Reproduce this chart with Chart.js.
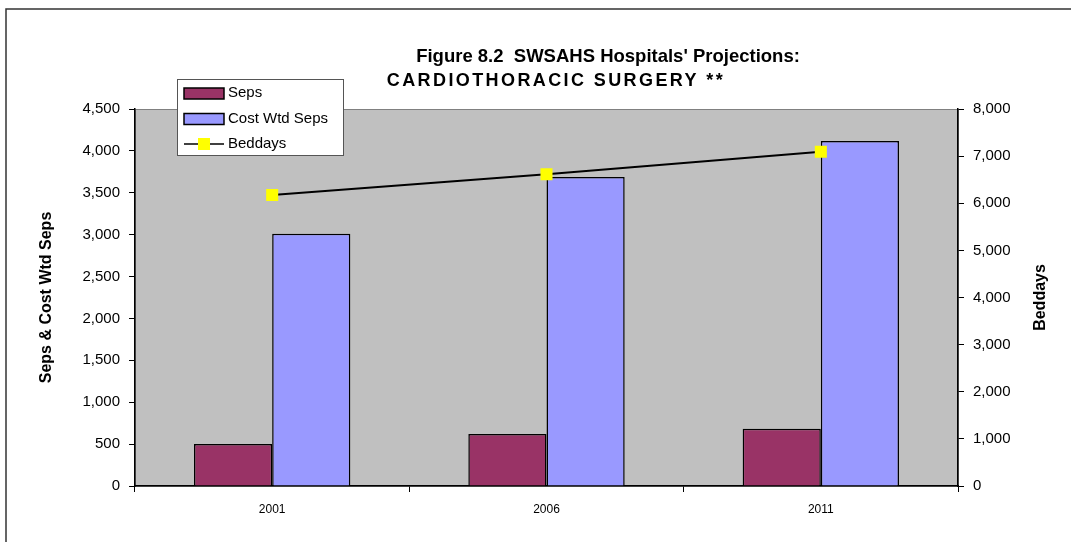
<!DOCTYPE html>
<html>
<head>
<meta charset="utf-8">
<script src="https://cdn.jsdelivr.net/npm/chart.js@4.4.0/dist/chart.umd.min.js"></script>
<style>
  html, body { margin: 0; padding: 0; background: #fff; }
  canvas { display: block; }
</style>
</head>
<body>
<canvas id="chart" width="1071" height="542"></canvas>
<script>
// data
const years = ['2001', '2006', '2011'];
const seps = [500, 620, 684];
const costWtdSeps = [3010, 3687, 4117];
const beddays = [6175, 6613, 7094];

const titleLine1 = "Figure 8.2  SWSAHS Hospitals' Projections:";
const titleLine2 = 'CARDIOTHORACIC SURGERY **';
const leftTitle = 'Seps & Cost Wtd Seps';
const rightTitle = 'Beddays';

const FONT = 'Arial, "Liberation Sans", sans-serif';

// grey plot area + outer frame
const backdrop = {
  id: 'backdrop',
  beforeDraw(chart) {
    const ctx = chart.ctx;
    const a = chart.chartArea;
    ctx.save();
    ctx.fillStyle = '#fff';
    ctx.fillRect(0, 0, chart.width, chart.height);
    ctx.strokeStyle = '#333';
    ctx.lineWidth = 1.5;
    ctx.strokeRect(6, 9, chart.width + 20, chart.height + 20);
    ctx.fillStyle = '#c0c0c0';
    ctx.fillRect(a.left, a.top, a.right - a.left, a.bottom - a.top);
    ctx.strokeStyle = '#808080';
    ctx.lineWidth = 1;
    ctx.strokeRect(a.left + 0.5, a.top + 0.5, a.right - a.left, a.bottom - a.top);
    ctx.restore();
  }
};

// titles, axis titles and the boxed legend
const decorations = {
  id: 'decorations',
  afterDraw(chart) {
    const ctx = chart.ctx;
    const a = chart.chartArea;
    ctx.save();
    ctx.fillStyle = '#000';
    ctx.textAlign = 'center';
    ctx.textBaseline = 'middle';
    ctx.font = 'bold 18.5px ' + FONT;
    ctx.fillText(titleLine1, 608, 57);
    ctx.font = 'bold 18px ' + FONT;
    ctx.letterSpacing = '2.4px';
    ctx.fillText(titleLine2, 556, 81);
    ctx.letterSpacing = '0px';

    ctx.font = 'bold 16px ' + FONT;
    ctx.save();
    ctx.translate(47, (a.top + a.bottom) / 2);
    ctx.rotate(-Math.PI / 2);
    ctx.fillText(leftTitle, 0, 0);
    ctx.restore();
    ctx.save();
    ctx.translate(1041, (a.top + a.bottom) / 2);
    ctx.rotate(-Math.PI / 2);
    ctx.fillText(rightTitle, 0, 0);
    ctx.restore();

    // legend box
    const lx = 177, ly = 79, lw = 166, lh = 76;
    ctx.fillStyle = '#fff';
    ctx.fillRect(lx, ly, lw, lh);
    ctx.strokeStyle = '#555';
    ctx.lineWidth = 1;
    ctx.strokeRect(lx + 0.5, ly + 0.5, lw, lh);
    const ds = chart.data.datasets;
    const rows = [ds[1], ds[2], ds[0]];
    ctx.font = '15px ' + FONT;
    ctx.textAlign = 'left';
    rows.forEach((d, i) => {
      const y = 93 + i * 25.5;
      if (d.type === 'line') {
        ctx.strokeStyle = '#000';
        ctx.lineWidth = 1.5;
        ctx.beginPath();
        ctx.moveTo(184, y);
        ctx.lineTo(224, y);
        ctx.stroke();
        ctx.fillStyle = d.pointBackgroundColor;
        ctx.fillRect(198, y - 6, 12, 12);
      } else {
        ctx.fillStyle = d.backgroundColor;
        ctx.fillRect(184, y - 5, 40, 11);
        ctx.strokeStyle = '#000';
        ctx.lineWidth = 1.5;
        ctx.strokeRect(184, y - 5, 40, 11);
      }
      ctx.fillStyle = '#000';
      ctx.fillText(d.label, 228, y);
    });
    ctx.restore();
  }
};

const fmt = v => v.toLocaleString('en-US');

new Chart(document.getElementById('chart').getContext('2d'), {
  data: {
    labels: years,
    datasets: [{
      type: 'line',
      label: 'Beddays',
      data: beddays,
      yAxisID: 'y2',
      borderColor: '#000',
      borderWidth: 2,
      pointStyle: 'rect',
      pointRadius: 8.5,
      pointBorderWidth: 0,
      pointBackgroundColor: '#ffff00',
      pointBorderColor: '#ffff00',
      order: 0
    }, {
      type: 'bar',
      label: 'Seps',
      data: seps,
      yAxisID: 'y',
      backgroundColor: '#993366',
      borderColor: '#000',
      borderWidth: 1.5,
      categoryPercentage: 0.57,
      barPercentage: 1,
      order: 1
    }, {
      type: 'bar',
      label: 'Cost Wtd Seps',
      data: costWtdSeps,
      yAxisID: 'y',
      backgroundColor: '#9999ff',
      borderColor: '#000',
      borderWidth: 1.5,
      categoryPercentage: 0.57,
      barPercentage: 1,
      order: 1
    }]
  },
  options: {
    responsive: false,
    animation: false,
    layout: { padding: { top: 109, left: 0, right: 0, bottom: 0 } },
    plugins: {
      legend: { display: false },
      title: { display: false },
      tooltip: { enabled: false }
    },
    scales: {
      x: {
        offset: true,
        grid: { offset: true, drawOnChartArea: false, color: '#000', tickLength: 6 },
        border: { display: true, color: '#000', width: 1.5 },
        ticks: { color: '#000', font: { family: FONT, size: 12 }, padding: 10, maxRotation: 0 },
        afterFit(s) { s.height = 56; }
      },
      y: {
        position: 'left',
        min: 0,
        max: 4500,
        ticks: { stepSize: 500, color: '#000', font: { family: FONT, size: 15 }, padding: 9, callback: fmt },
        grid: { drawOnChartArea: false, color: '#000', tickLength: 6 },
        border: { display: true, color: '#000', width: 1.5 },
        afterFit(s) { s.width = 135; }
      },
      y2: {
        position: 'right',
        min: 0,
        max: 8000,
        ticks: { stepSize: 1000, color: '#000', font: { family: FONT, size: 15 }, padding: 9, callback: fmt },
        grid: { drawOnChartArea: false, color: '#000', tickLength: 6 },
        border: { display: true, color: '#000', width: 1.5 },
        afterFit(s) { s.width = 113; }
      }
    }
  },
  plugins: [backdrop, decorations]
});
</script>
</body>
</html>
